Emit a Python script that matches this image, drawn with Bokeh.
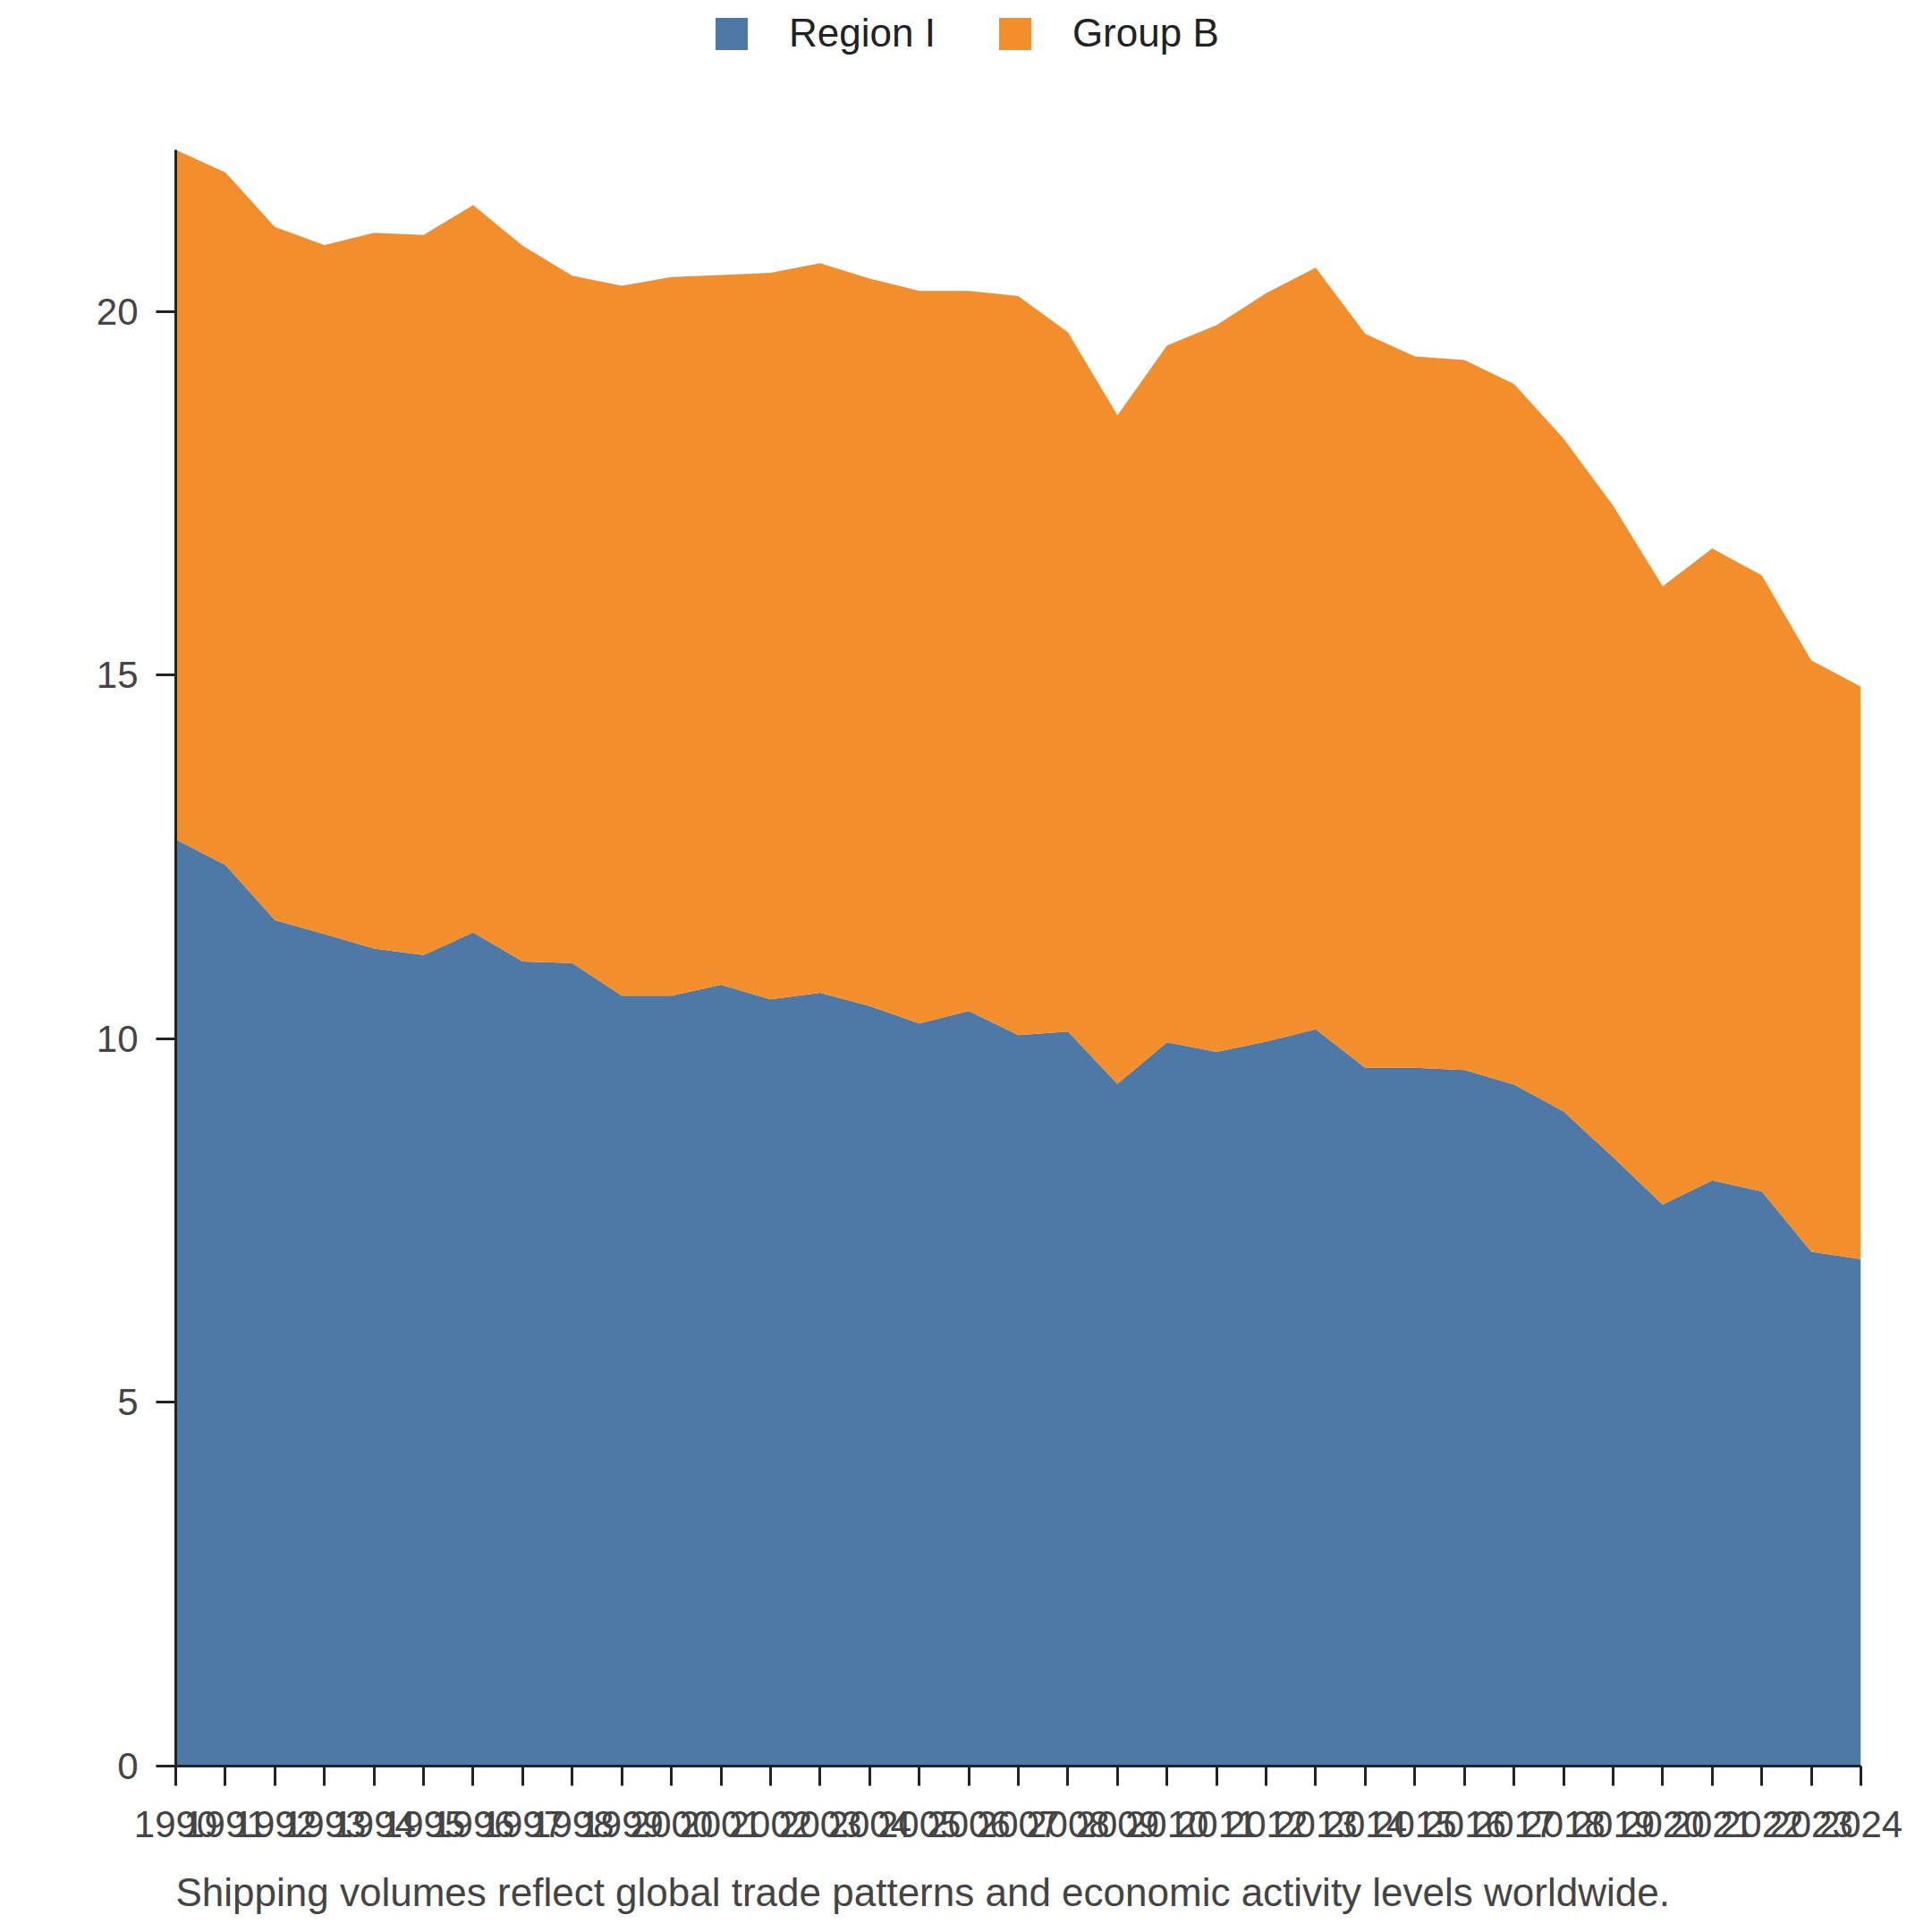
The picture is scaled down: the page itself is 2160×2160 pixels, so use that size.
from bokeh.plotting import figure
from bokeh.models import ColumnDataSource, Range1d, FixedTicker, Legend, LegendItem, Label
from bokeh.layouts import column
from bokeh.embed import file_html
from bokeh.resources import INLINE

years = list(range(1990, 2025))
region_i = [12.74, 12.39, 11.63, 11.44, 11.24, 11.15, 11.46, 11.06, 11.04, 10.59,
            10.59, 10.74, 10.54, 10.63, 10.45, 10.21, 10.38, 10.05, 10.10, 9.38,
            9.95, 9.82, 9.96, 10.13, 9.60, 9.60, 9.57, 9.37, 9.00, 8.37,
            7.72, 8.05, 7.90, 7.07, 6.97]
total = [22.22, 21.91, 21.16, 20.91, 21.08, 21.05, 21.46, 20.90, 20.49, 20.35,
         20.47, 20.50, 20.53, 20.66, 20.45, 20.28, 20.28, 20.21, 19.71, 18.57,
         19.53, 19.81, 20.25, 20.60, 19.69, 19.38, 19.33, 19.00, 18.25, 17.33,
         16.22, 16.74, 16.37, 15.20, 14.84]
group_b = [round(t - r, 2) for t, r in zip(total, region_i)]
series_names = ["Region I", "Group B"]
colors = ["#4e79a7", "#f28e2b"]
caption = "Shipping volumes reflect global trade patterns and economic activity levels worldwide."

src = ColumnDataSource(dict(year=years, region_i=region_i, group_b=group_b))

FONT = "Liberation Sans"
W = 2144
LEG_H, CAP_H = 80, 60
MAIN_H = 2144 - LEG_H - CAP_H
BL, BR, BT, BB = 196, 64, 87, 110

def strip(h):
    f = figure(width=W, height=h, output_backend="svg", toolbar_location=None,
               x_range=Range1d(0, 1), y_range=Range1d(0, 1),
               x_axis_type=None, y_axis_type=None,
               min_border_left=BL, min_border_right=BR,
               min_border_top=0, min_border_bottom=0)
    f.outline_line_color = None
    f.grid.visible = False
    return f

# ---- legend strip ----
pl = strip(LEG_H)
lrs = pl.varea_stack(["region_i", "group_b"], x="year", source=src, fill_color=colors)
for r in lrs:
    r.visible = False
legend = Legend(items=[LegendItem(label=n, renderers=[r]) for n, r in zip(series_names, lrs)],
                orientation="horizontal", location=(599, 18),
                glyph_width=45, glyph_height=45, label_standoff=42, spacing=66,
                padding=0, margin=0, border_line_color=None, background_fill_alpha=0,
                label_text_font=FONT, label_text_font_size="44px", label_text_color="#222222")
pl.add_layout(legend, "center")

# ---- main chart ----
p = figure(width=W, height=MAIN_H, output_backend="svg", toolbar_location=None,
           x_range=Range1d(years[0], years[-1]),
           y_range=Range1d(0, max(a + b for a, b in zip(region_i, group_b))),
           min_border_left=BL, min_border_right=BR, min_border_top=BT, min_border_bottom=BB)
p.outline_line_color = None
p.grid.visible = False

rs = p.varea_stack(["region_i", "group_b"], x="year", source=src, fill_color=colors)

for ax in (p.xaxis[0], p.yaxis[0]):
    ax.axis_line_color = "#222222"
    ax.axis_line_width = 3
    ax.major_tick_line_color = "#222222"
    ax.major_tick_line_width = 3
    ax.major_tick_out = 22
    ax.major_tick_in = 0
    ax.minor_tick_line_color = None
    ax.major_label_text_font = FONT
    ax.major_label_text_font_size = "42px"
    ax.major_label_text_color = "#444444"
p.xaxis.major_label_standoff = 28
p.yaxis.major_label_standoff = 20

p.xaxis.ticker = FixedTicker(ticks=years)
p.yaxis.ticker = FixedTicker(ticks=[0, 5, 10, 15, 20])

# ---- caption strip ----
pc = strip(CAP_H)
cap = Label(x=0, y=29, x_units="screen", y_units="screen", text=caption,
            text_font=FONT, text_font_size="44px", text_color="#444444",
            text_baseline="alphabetic", text_align="left")
pc.add_layout(cap)

layout = column(pl, p, pc, spacing=0)
open("out.html", "w").write(file_html(layout, INLINE))
